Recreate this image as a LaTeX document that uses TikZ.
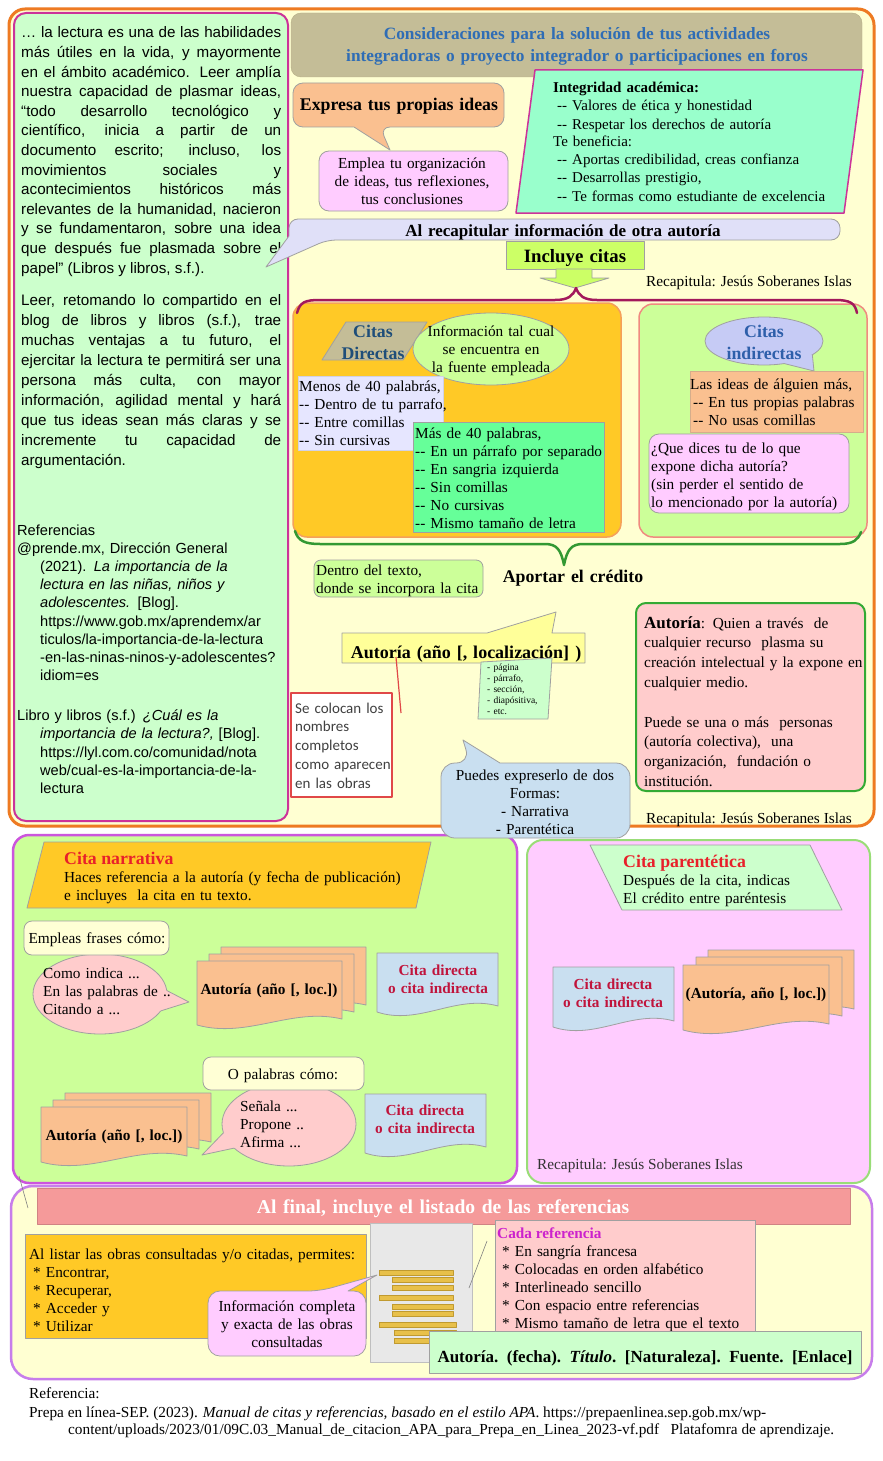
\documentclass[tikz,border=0pt]{standalone}
\usepackage{fontspec}
\setmainfont{Liberation Serif}
\newfontfamily\sansA{Liberation Sans}
\newfontfamily\calib{Carlito}
\newcommand\fsz[2]{\fontsize{#1}{#2}\selectfont}
\definecolor{orangeF}{HTML}{EE7A22}
\definecolor{bgY}{HTML}{FFFFD2}
\definecolor{leftG}{HTML}{CCFFCC}
\definecolor{magB}{HTML}{CC3399}
\definecolor{khaki}{HTML}{C4BD97}
\definecolor{khakiD}{HTML}{B5AD85}
\definecolor{hdrBlue}{HTML}{2F6DB5}
\definecolor{orangeL}{HTML}{FAC090}
\definecolor{pinkL}{HTML}{FFCCFF}
\definecolor{aqua}{HTML}{99FFCC}
\definecolor{lavB}{HTML}{E0E0F8}
\definecolor{lime}{HTML}{CCFF66}
\definecolor{maroonB}{HTML}{A3195B}
\definecolor{gold}{HTML}{FFC926}
\definecolor{salmonB}{HTML}{F5A05A}
\definecolor{lgreen}{HTML}{CCFF99}
\definecolor{coralB}{HTML}{F08A80}
\definecolor{lavBox}{HTML}{E6E6FF}
\definecolor{brightG}{HTML}{66FF99}
\definecolor{ellBlue}{HTML}{C6CBF5}
\definecolor{dBlue}{HTML}{1F4E79}
\definecolor{mBlue}{HTML}{2E5FAA}
\definecolor{greenB}{HTML}{339933}
\definecolor{yellowC}{HTML}{FFFF99}
\definecolor{redL}{HTML}{E04848}
\definecolor{lblue}{HTML}{C9DFF0}
\definecolor{pinkR}{HTML}{FFCCCC}
\definecolor{grnBorder}{HTML}{33AA33}
\definecolor{redT}{HTML}{E8202A}
\definecolor{crimson}{HTML}{C0143C}
\definecolor{paleY}{HTML}{FFFFD5}
\definecolor{violetB}{HTML}{CC55DD}
\definecolor{greenL}{HTML}{99DD77}
\definecolor{purpB}{HTML}{C77DEB}
\definecolor{salmonBan}{HTML}{F59A9A}
\definecolor{barG}{HTML}{E8C04A}
\definecolor{barB}{HTML}{C09A30}
\definecolor{docG}{HTML}{E8E8E8}
\definecolor{magT}{HTML}{CC22CC}
\definecolor{mint}{HTML}{CCFFCC}
\definecolor{edge}{HTML}{A0A0A0}
\newcommand\docshape[5]{\path[#5] (#1,#2) -- (#3,#2) -- (#3,{#4-6}) .. controls ({#3-0.35*(#3-#1)},{#4-18}) and ({#1+0.35*(#3-#1)},{#4+14}) .. (#1,#4) -- cycle;}
\newcommand\hng{\hspace*{23pt}}
\tikzset{
  txt/.style={inner sep=0pt, font=\fsz{15.3}{18}},
  txtl/.style={txt, anchor=base west, text width=#1, align=left},
  txtc/.style={txt, anchor=base, text width=#1, align=center},
  thin/.style={draw=edge, line width=0.8pt},
}
\begin{document}
\begin{tikzpicture}[x=1pt,y=-1pt,line join=round]
\useasboundingbox (0,0) rectangle (883,1461);
\fill[white] (0,0) rectangle (883,1461);

% ===== top section =====
\draw[orangeF, line width=3pt, fill=bgY, rounded corners=16pt] (9,9) rectangle (874,826);
\draw[magB, line width=2pt, fill=leftG, rounded corners=12pt] (14,13) rectangle (288,821);

\node[txt, anchor=base west, text width=260pt, align=justify, font=\sansA\fsz{15.2}{19.6}] (p1) at (21,38) {… la lectura es una de las habilidades\linebreak más útiles en la vida, y mayormente\linebreak en el ámbito académico. Leer amplía\linebreak nuestra capacidad de plasmar ideas,\linebreak “todo desarrollo tecnológico y\linebreak científico, inicia a partir de un\linebreak documento escrito; incluso, los\linebreak movimientos sociales y\linebreak acontecimientos históricos más\linebreak relevantes de la humanidad, nacieron\linebreak y se fundamentaron, sobre una idea\linebreak que después fue plasmada sobre el\linebreak papel” (Libros y libros, s.f.).};

\node[txt, anchor=base west, text width=260pt, align=justify, font=\sansA\fsz{15.2}{20}] (p2) at (21,305) {Leer, retomando lo compartido en el\linebreak blog de libros y libros (s.f.), trae\linebreak muchas ventajas a tu futuro, el\linebreak ejercitar la lectura te permitirá ser una\linebreak persona más culta, con mayor\linebreak información, agilidad mental y hará\linebreak que tus ideas sean más claras y se\linebreak incremente tu capacidad de\linebreak argumentación.};

\node[txt, anchor=base west, text width=268pt, align=left, font=\sansA\fsz{14.6}{18.2}] (refs) at (17,535) {Referencias\\ @prende.mx, Dirección General\\ \hng(2021). \textit{La importancia de la}\\ \hng\textit{lectura en las niñas, niños y}\\ \hng\textit{adolescentes.} [Blog].\\ \hng https://www.gob.mx/aprendemx/ar\\ \hng ticulos/la-importancia-de-la-lectura\\ \hng -en-las-ninas-ninos-y-adolescentes?\\ \hng idiom=es\\[21.8pt] Libro y libros (s.f.) \textit{¿Cuál es la}\\ \hng\textit{importancia de la lectura?,} [Blog].\\ \hng https://lyl.com.co/comunidad/nota\\ \hng web/cual-es-la-importancia-de-la-\\ \hng lectura};

% header
\draw[fill=khaki, draw=khakiD, rounded corners=10pt] (291,13) rectangle (862,77);
\node[txtc=570pt, font=\bfseries\fsz{17.3}{22}, text=hdrBlue] (hdr) at (577,40) {Consideraciones para la solución de tus actividades\\ integradoras o proyecto integrador o participaciones en foros};

% integrity
\draw[fill=aqua, draw=magB, line width=1.5pt] (535,70) -- (863,70) -- (844,213) -- (516,213) -- cycle;
\node[txtl=300pt, font=\fsz{15}{18}] (integ) at (553,93) {\textbf{Integridad académica:}\\ \hspace*{4pt}-{}- Valores de ética y honestidad\\ \hspace*{4pt}-{}- Respetar los derechos de autoría\\ Te beneficia:\\ \hspace*{4pt}-{}- Aportas credibilidad, creas confianza\\ \hspace*{4pt}-{}- Desarrollas prestigio,\\ \hspace*{4pt}-{}- Te formas como estudiante de excelencia};

% expresa
\draw[fill=orangeL, thin] [rounded corners=10pt] (293,83) -- (504,83) -- (504,127) -- (380,127) [sharp corners] -- (390,150) -- (354,127) [rounded corners=10pt] -- (293,127) -- cycle;
\node[txtc=210pt, font=\bfseries\fsz{17.8}{20}] (expresa) at (399,111) {Expresa tus propias ideas};
\draw[fill=pinkL, thin, rounded corners=10pt] (319,151) rectangle (508,211);
\node[txtc=185pt] (emplea) at (412,168) {Emplea tu organización\\ de ideas, tus reflexiones,\\ tus conclusiones};

% recap banner
\draw[fill=lavB, thin] [rounded corners=9pt] (289,219) -- (840,219) -- (840,240) -- (327,240) [sharp corners] -- (266,267) -- (289,236) [rounded corners=9pt] -- cycle;
\node[txtc=500pt, font=\bfseries\fsz{17}{20}] (recap) at (563,236) {Al recapitular información de otra autoría};

% incluye citas
\draw[fill=lime, thin] (506,241) rectangle (644,269);
\draw[fill=lime, thin] (556,269) -- (592,269) -- (592,278) -- (609,278) -- (575,288) -- (540,278) -- (556,278) -- cycle;
\node[txtc=140pt, font=\bfseries\fsz{18.8}{20}] (incl) at (575,262) {Incluye citas};
\node[txt, anchor=base east] (rec1) at (852,286) {Recapitula: Jesús Soberanes Islas};

% groups
\draw[fill=gold, draw=salmonB, line width=1.5pt, rounded corners=14pt] (293,303) rectangle (621,537);
\draw[fill=lgreen, draw=coralB, line width=1.5pt, rounded corners=14pt] (639,304) rectangle (867,537);
\draw[maroonB, line width=2.5pt, line cap=round] (297,313) .. controls (300,302) and (305,300) .. (320,300) -- (555,300) .. controls (568,300) and (573,296) .. (576,288) .. controls (579,296) and (584,300) .. (597,300) -- (835,300) .. controls (850,300) and (855,303) .. (857,313);

% citas directas
\draw[fill=khaki, thin] (346,322) -- (427,322) -- (403,360) -- (322,360) -- cycle;
\node[txtc=100pt, font=\bfseries\fsz{17.8}{22}, text=dBlue] (cd) at (373,337) {Citas\\ Directas};
\draw[fill=lgreen, thin] (491,349) ellipse [x radius=78, y radius=36];
\node[txtc=150pt] (info) at (491,336) {Información tal cual\\ se encuentra en\\ la fuente empleada};
\draw[fill=lavBox, draw=lavBox!80!gray, line width=0.6pt] (298,376) rectangle (443,450);
\node[txtl=150pt] (menos) at (299,391) {Menos de 40 palabrás,\\ -{}- Dentro de tu parrafo,\\ -{}- Entre comillas\\ -{}- Sin cursivas};
\draw[fill=brightG, thin] (413,422) rectangle (604,532);
\node[txtl=190pt] (mas) at (415,438) {Más de 40 palabras,\\ -{}- En un párrafo por separado\\ -{}- En sangria izquierda\\ -{}- Sin comillas\\ -{}- No cursivas\\ -{}- Mismo tamaño de letra};

% citas indirectas
\draw[fill=ellBlue, thin] (764,341) ellipse [x radius=59, y radius=24];
\fill[ellBlue] ({764+59*cos(35)},{341+24*sin(35)}) -- (814,371) -- ({764+59*cos(70)},{341+24*sin(70)}) -- (764,341) -- cycle;
\draw[thin] ({764+59*cos(35)},{341+24*sin(35)}) -- (814,371) -- ({764+59*cos(70)},{341+24*sin(70)});
\node[txtc=120pt, font=\bfseries\fsz{17.8}{22}, text=mBlue] (ci) at (764,337) {Citas\\ indirectas};
\draw[fill=orangeL, draw=orangeL!70!gray, line width=0.8pt] (690,371) rectangle (863,432);
\node[txtl=175pt] (ideas) at (690,389) {Las ideas de álguien más,\\ \hspace*{3pt}-{}- En tus propias palabras\\ \hspace*{3pt}-{}- No usas comillas};
\draw[fill=pinkL, thin, rounded corners=10pt] (649,434) rectangle (849,513);
\node[txtl=200pt] (dices) at (651,453) {¿Que dices tu de lo que\\ expone dicha autoría?\\ (sin perder el sentido de\\ lo mencionado por la autoría)};

% green brace
\draw[greenB, line width=2.5pt, line cap=round] (295,531) .. controls (298,541) and (305,544) .. (320,544) -- (545,544) .. controls (557,544) and (561,550) .. (564,565) .. controls (567,550) and (571,544) .. (583,544) -- (840,544) .. controls (853,544) and (858,540) .. (861,532);

% credit
\draw[fill=lgreen, thin, rounded corners=7pt] (314,560) rectangle (483,597);
\node[txtl=170pt] (dentro) at (316,575) {Dentro del texto,\\ donde se incorpora la cita};
\node[txtc=200pt, font=\bfseries\fsz{17.8}{20}] (aportar) at (573,582) {Aportar el crédito};

\draw[fill=yellowC, thin] (342,633) -- (487,633) -- (556,612) -- (552,633) -- (585,633) -- (585,663) -- (342,663) -- cycle;
\node[txtc=240pt, font=\bfseries\fsz{18}{20}] (autc) at (466,658) {Autoría (año [, localización] )};
\draw[fill=mint, thin] (481,662) -- (552,658) -- (548,719) -- (478,719) -- cycle;
\node[txtl=70pt, font=\fsz{9.5}{11}] (pag) at (487,670) {- página\\ - párrafo,\\ - sección,\\ - diapósitiva,\\ - etc.};
\coordinate (rl1) at (396,657);
\coordinate (rl2) at (401,713);
\draw[redL, line width=1.2pt] (rl1) -- (rl2);
\draw[fill=white, draw=redL, line width=1.5pt] (291,693) rectangle (392,797);
\node[txtl=100pt, font=\calib\fsz{15}{18.8}, text=black!75] (coloc) at (295,713) {Se colocan los\\ nombres\\ completos\\ como aparecen\\ en las obras};

\draw[fill=pinkR, draw=grnBorder, line width=2pt, rounded corners=10pt] (636,603) rectangle (865,791);
\node[txtl=222pt, font=\fsz{15.3}{19.8}] (autbox) at (644,628) {{\bfseries\fsz{17}{19.8}Autoría}: Quien a través~ de\\ cualquier recurso~ plasma su\\ creación intelectual y la expone en\\ cualquier medio.\\[19.8pt] Puede se una o más~ personas\\ (autoría colectiva),~ una\\ organización,~ fundación o\\ institución.};
\node[txt, anchor=base east] (rec2) at (852,823) {Recapitula: Jesús Soberanes Islas};

% ===== middle section =====
\draw[fill=lgreen, draw=violetB, line width=2.5pt, rounded corners=16pt] (13,835) rectangle (517,1183);
\draw[fill=pinkL, draw=greenL, line width=2pt, rounded corners=16pt] (527,840) rectangle (870,1183);

\draw[fill=gold, thin] (44,842) -- (431,842) -- (416,908) -- (27,908) -- cycle;
\node[txt, anchor=base west, font=\bfseries\fsz{17.8}{20}, text=redT] (cnt) at (64,864) {Cita narrativa};
\node[txtl=360pt] (cnb) at (64,882) {Haces referencia a la autoría (y fecha de publicación)\\ e incluyes~ la cita en tu texto.};

\draw[fill=pinkR, thin] (100,994) ellipse [x radius=67, y radius=40];
\fill[pinkR] ({100+67*cos(-5)},{994+40*sin(-5)}) -- (189,1002) -- ({100+67*cos(25)},{994+40*sin(25)}) -- (100,994) -- cycle;
\draw[thin] ({100+67*cos(-5)},{994+40*sin(-5)}) -- (189,1002) -- ({100+67*cos(25)},{994+40*sin(25)});
\draw[fill=paleY, thin, rounded corners=8pt] (24,921) rectangle (169,955);
\node[txtc=150pt] (empleas) at (97,943) {Empleas frases cómo:};
\node[txtl=130pt] (como) at (43,978) {Como indica ...\\ En las palabras de ..\\ Citando a ...};

\docshape{221}{947}{366}{1011}{fill=orangeL, thin}
\docshape{209}{954}{354}{1018}{fill=orangeL, thin}
\docshape{197}{961}{342}{1025}{fill=orangeL, thin}
\node[txtc=145pt, font=\bfseries\fsz{15.3}{18}] (d1) at (269,994) {Autoría (año [, loc.])};
\docshape{377}{953}{498}{1012}{fill=lblue, thin}
\node[txtc=120pt, font=\bfseries\fsz{15.3}{18}, text=crimson] (cd1) at (438,975) {Cita directa\\ o cita indirecta};

\draw[fill=pinkR, thin] (289,1124) ellipse [x radius=67, y radius=42];
\fill[pinkR] ({289+67*cos(145)},{1124+42*sin(145)}) -- (202,1155) -- ({289+67*cos(168)},{1124+42*sin(168)}) -- (289,1124) -- cycle;
\draw[thin] ({289+67*cos(145)},{1124+42*sin(145)}) -- (202,1155) -- ({289+67*cos(168)},{1124+42*sin(168)});
\draw[fill=paleY, thin, rounded corners=8pt] (203,1057) rectangle (364,1090);
\node[txtc=150pt] (opal) at (283,1079) {O palabras cómo:};
\node[txtl=110pt] (senala) at (240,1111) {Señala ...\\ Propone ..\\ Afirma ...};

\docshape{65}{1093}{211}{1148}{fill=orangeL, thin}
\docshape{53}{1100}{199}{1155}{fill=orangeL, thin}
\docshape{41}{1107}{187}{1162}{fill=orangeL, thin}
\node[txtc=145pt, font=\bfseries\fsz{15.3}{18}] (d2) at (114,1140) {Autoría (año [, loc.])};
\docshape{365}{1094}{486}{1153}{fill=lblue, thin}
\node[txtc=120pt, font=\bfseries\fsz{15.3}{18}, text=crimson] (cd2) at (425,1115) {Cita directa\\ o cita indirecta};

\draw[fill=mint, thin] (590,845) -- (810,845) -- (842,910) -- (622,910) -- cycle;
\node[txt, anchor=base west, font=\bfseries\fsz{17.8}{20}, text=redT] (cpt) at (623,867) {Cita parentética};
\node[txtl=220pt] (cpb) at (623,885) {Después de la cita, indicas\\ El crédito entre paréntesis};
\docshape{553}{967}{674}{1027}{fill=lblue, thin}
\node[txtc=120pt, font=\bfseries\fsz{15.3}{18}, text=crimson] (cd3) at (613,989) {Cita directa\\ o cita indirecta};
\docshape{708}{950}{854}{1015}{fill=orangeL, thin}
\docshape{696}{957}{842}{1022}{fill=orangeL, thin}
\docshape{683}{965}{829}{1030}{fill=orangeL, thin}
\node[txtc=145pt, font=\bfseries\fsz{15.3}{18}] (d3) at (756,998) {(Autoría, año [, loc.])};
\node[txt, anchor=base west, text=black!80] (rec3) at (537,1169) {Recapitula: Jesús Soberanes Islas};

% callout puedes (on top)
\draw[fill=lblue, thin] [rounded corners=14pt] (441,763) -- (470,763) [sharp corners] -- (463,740) -- (500,763) [rounded corners=14pt] -- (630,763) -- (630,838) -- (441,838) -- cycle;
\node[txtc=190pt] (puedes) at (535,780) {Puedes expreserlo de dos\\ Formas:\\ - Narrativa\\ - Parentética};

% ===== bottom section =====
\coordinate (gl1) at (19,1176);
\coordinate (gl2) at (28,1208);
\draw[fill=bgY, draw=purpB, line width=2.5pt, rounded corners=22pt] (11,1186) rectangle (872,1379);
\draw[gray, line width=0.6pt] (gl1) -- (gl2);
\draw[fill=salmonBan, draw=salmonBan!85!black, line width=0.6pt] (37,1188) rectangle (850,1224);
\node[txtc=600pt, font=\bfseries\fsz{19.6}{22}, text=white] (alfinal) at (443,1213) {Al final, incluye el listado de las referencias};

\draw[fill=gold, thin] (25,1234) rectangle (366,1338);
\node[txtl=340pt] (listar) at (29,1259) {Al listar las obras consultadas y/o citadas, permites:\\ \hspace*{4pt}* Encontrar,\\ \hspace*{4pt}* Recuperar,\\ \hspace*{4pt}* Acceder y\\ \hspace*{4pt}* Utilizar};

\draw[fill=docG, draw=gray!50, line width=0.8pt] (370,1223) rectangle (472,1362);
\foreach \xa/\yy/\xb in {379/1273/453, 392/1280/453, 392/1288/453, 379/1298/453, 392/1307/453, 392/1314/453, 379/1325/456, 394/1333/456, 394/1341/456}{
  \draw[fill=barG, draw=barB, line width=0.5pt] ({\xa},{\yy-2.5}) rectangle ({\xb},{\yy+2.5});
}
\draw[fill=pinkL, thin] [rounded corners=12pt] (208,1291) -- (320,1291) [sharp corners] -- (377,1275) -- (348,1291) [rounded corners=12pt] -- (366,1291) -- (366,1356) -- (208,1356) -- cycle;
\node[txtc=160pt] (infoc) at (287,1311) {Información completa\\ y exacta de las obras\\ consultadas};

\coordinate (cl1) at (487,1241);
\coordinate (cl2) at (469,1288);
\draw[gray, line width=0.6pt] (cl1) -- (cl2);
\draw[fill=pinkR, thin] (495,1220) rectangle (755,1334);
\node[txt, anchor=base west, font=\bfseries\fsz{15.3}{18}, text=magT] (cada) at (497,1238) {Cada referencia};
\node[txtl=260pt] (cadab) at (502,1256) {* En sangría francesa\\{}* Colocadas en orden alfabético\\{}* Interlineado sencillo\\{}* Con espacio entre referencias\\{}* Mismo tamaño de letra que el texto};

\draw[fill=mint, thin] (429,1331) rectangle (861,1373);
\node[txtc=440pt, font=\bfseries\fsz{17}{20}] (fmt) at (645,1362) {Autoría. (fecha). \textit{Título}. [Naturaleza]. Fuente. [Enlace]};

\node[txt, anchor=base west, font=\fsz{15.3}{18}] (ref0) at (29,1398) {Referencia:};
\node[txt, anchor=base west, font=\fsz{15.3}{18}] (ref1) at (29,1417) {Prepa en línea-SEP. (2023). \textit{Manual de citas y referencias, basado en el estilo APA}. https://prepaenlinea.sep.gob.mx/wp-};
\node[txt, anchor=base west, font=\fsz{15.3}{18}] (ref2) at (68,1434) {content/uploads/2023/01/09C.03\_Manual\_de\_citacion\_APA\_para\_Prepa\_en\_Linea\_2023-vf.pdf~~~Platafomra de aprendizaje.};
\end{tikzpicture}
\end{document}
